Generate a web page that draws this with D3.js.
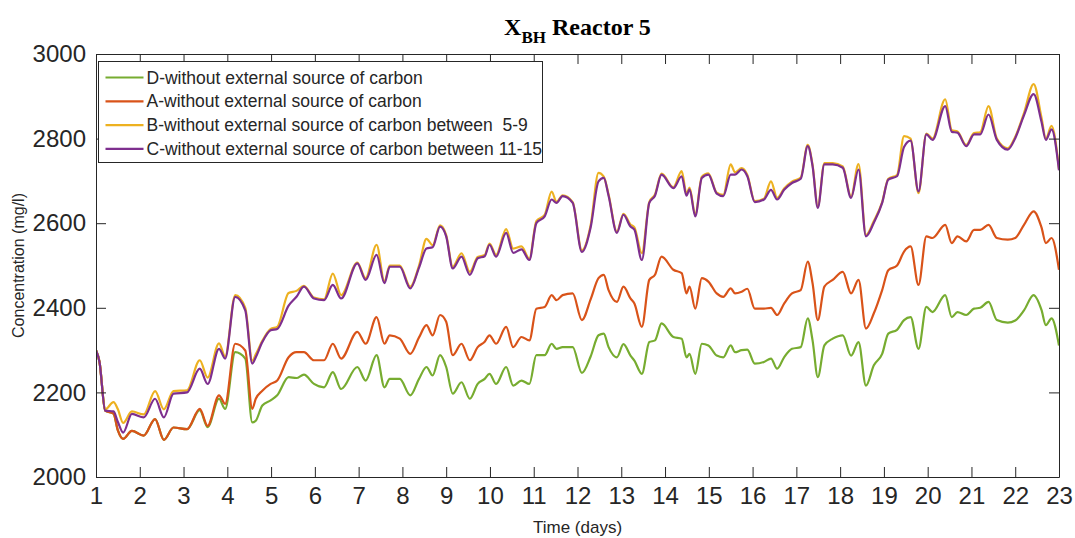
<!DOCTYPE html>
<html>
<head>
<meta charset="utf-8">
<title>X_BH Reactor 5</title>
<script src="https://cdn.jsdelivr.net/npm/d3@7"></script>
<style>
  html, body { margin: 0; padding: 0; background: #ffffff; }
  svg { display: block; }
  .tick text { font-family: "Liberation Sans", Arial, sans-serif; fill: #262626; }
</style>
</head>
<body>
<svg id="chart" width="1075" height="538"></svg>
<script>
// Sample times (days)
const days = [
  1.00, 1.08, 1.21, 1.40, 1.50, 1.62, 1.82, 2.09, 2.35, 2.55,
  2.77, 3.08, 3.37, 3.55, 3.81, 3.95, 4.18, 4.41, 4.57, 4.65,
  4.80, 4.99, 5.14, 5.40, 5.58, 5.75, 5.98, 6.21, 6.41, 6.60,
  6.97, 7.16, 7.41, 7.59, 7.71, 7.94, 8.18, 8.38, 8.55, 8.69,
  8.86, 9.00, 9.15, 9.35, 9.54, 9.72, 9.88, 9.99, 10.14, 10.37,
  10.53, 10.72, 10.90, 11.06, 11.25, 11.41, 11.52, 11.66, 11.89, 12.10,
  12.30, 12.48, 12.60, 12.71, 12.90, 13.05, 13.21, 13.30, 13.47, 13.64,
  13.77, 13.92, 14.19, 14.38, 14.49, 14.56, 14.69, 14.84, 14.99, 15.18,
  15.33, 15.50, 15.60, 15.75, 15.88, 16.05, 16.26, 16.42, 16.56, 16.72,
  16.90, 17.10, 17.26, 17.37, 17.49, 17.64, 17.83, 18.06, 18.25, 18.42,
  18.59, 18.77, 18.96, 19.10, 19.30, 19.46, 19.61, 19.79, 19.97, 20.11,
  20.40, 20.55, 20.68, 20.88, 21.06, 21.20, 21.39, 21.58, 21.83, 22.00,
  22.20, 22.42, 22.60, 22.70, 22.83, 23.00
];

// D - without external source of carbon
const seriesD = [
  2300, 2272, 2157, 2150, 2110, 2090, 2109, 2098, 2137, 2088,
  2117, 2113, 2158, 2118, 2185, 2161, 2295, 2280, 2129, 2133,
  2169, 2181, 2193, 2236, 2234, 2242, 2220, 2212, 2248, 2208,
  2260, 2228, 2288, 2212, 2232, 2232, 2193, 2232, 2260, 2240,
  2288, 2260, 2197, 2224, 2185, 2220, 2232, 2244, 2220, 2260,
  2216, 2228, 2220, 2288, 2288, 2315, 2303, 2307, 2307, 2246,
  2285, 2335, 2339, 2307, 2283, 2314, 2287, 2275, 2244, 2319,
  2323, 2363, 2331, 2327, 2283, 2291, 2244, 2315, 2311, 2287,
  2283, 2311, 2295, 2300, 2301, 2268, 2272, 2280, 2256, 2283,
  2303, 2307, 2375, 2323, 2236, 2311, 2327, 2335, 2287, 2319,
  2216, 2264, 2291, 2339, 2348, 2371, 2378, 2303, 2402, 2390,
  2430, 2378, 2390, 2383, 2398, 2400, 2414, 2371, 2365, 2370,
  2394, 2430, 2395, 2359, 2375, 2311
];

// A - without external source of carbon
const seriesA = [
  2300, 2272, 2157, 2150, 2110, 2090, 2109, 2098, 2137, 2088,
  2117, 2113, 2161, 2121, 2193, 2173, 2315, 2299, 2161, 2185,
  2204, 2220, 2228, 2283, 2295, 2295, 2276, 2276, 2315, 2280,
  2343, 2315, 2378, 2315, 2335, 2327, 2291, 2330, 2359, 2335,
  2383, 2367, 2288, 2315, 2276, 2307, 2320, 2335, 2315, 2355,
  2307, 2331, 2323, 2398, 2402, 2430, 2418, 2430, 2434, 2371,
  2420, 2470, 2478, 2442, 2414, 2450, 2422, 2410, 2355, 2466,
  2478, 2521, 2490, 2482, 2434, 2450, 2398, 2470, 2462, 2434,
  2426, 2446, 2434, 2438, 2445, 2398, 2398, 2400, 2383, 2410,
  2434, 2442, 2509, 2458, 2371, 2450, 2466, 2485, 2434, 2466,
  2351, 2387, 2442, 2489, 2500, 2533, 2545, 2454, 2569, 2565,
  2596, 2553, 2569, 2557, 2584, 2584, 2596, 2565, 2561, 2565,
  2596, 2628, 2590, 2553, 2565, 2490
];

// B - without external source of carbon between 5-9
const seriesB = [
  2300, 2272, 2160, 2177, 2160, 2128, 2155, 2148, 2203, 2160,
  2203, 2205, 2276, 2235, 2316, 2285, 2430, 2400, 2275, 2290,
  2322, 2350, 2355, 2435, 2440, 2452, 2424, 2420, 2481, 2430,
  2507, 2470, 2549, 2462, 2500, 2500, 2450, 2500, 2563, 2548,
  2595, 2572, 2497, 2529, 2485, 2520, 2525, 2552, 2525, 2586,
  2540, 2545, 2516, 2605, 2620, 2675, 2650, 2666, 2650, 2536,
  2595, 2719, 2710, 2668, 2580, 2622, 2597, 2590, 2529, 2650,
  2668, 2717, 2685, 2723, 2670, 2684, 2620, 2710, 2718, 2672,
  2667, 2739, 2720, 2730, 2714, 2652, 2658, 2699, 2660, 2682,
  2698, 2708, 2785, 2738, 2640, 2742, 2742, 2734, 2663, 2740,
  2572, 2605, 2650, 2705, 2714, 2806, 2800, 2671, 2812, 2800,
  2893, 2820, 2817, 2785, 2813, 2815, 2877, 2800, 2777, 2804,
  2860, 2929, 2850, 2800, 2830, 2728
];

// C - without external source of carbon between 11-15
const seriesC = [
  2300, 2272, 2157, 2155, 2130, 2105, 2149, 2141, 2185, 2141,
  2197, 2200, 2256, 2220, 2303, 2280, 2426, 2394, 2268, 2283,
  2319, 2347, 2350, 2405, 2426, 2450, 2422, 2418, 2454, 2422,
  2505, 2466, 2525, 2458, 2497, 2497, 2446, 2495, 2540, 2543,
  2592, 2569, 2493, 2521, 2478, 2517, 2522, 2549, 2521, 2577,
  2530, 2538, 2513, 2600, 2616, 2656, 2648, 2664, 2648, 2532,
  2590, 2699, 2707, 2665, 2577, 2620, 2592, 2585, 2513, 2648,
  2665, 2715, 2683, 2711, 2665, 2680, 2616, 2707, 2715, 2670,
  2664, 2715, 2715, 2727, 2711, 2650, 2656, 2679, 2656, 2679,
  2695, 2705, 2782, 2735, 2636, 2739, 2739, 2731, 2660, 2727,
  2569, 2601, 2648, 2703, 2711, 2780, 2795, 2675, 2810, 2797,
  2877, 2816, 2814, 2782, 2810, 2810, 2857, 2797, 2774, 2801,
  2855, 2905, 2840, 2797, 2822, 2725
];

const seriesLabels = [
  "D-without external source of carbon",
  "A-without external source of carbon",
  "B-without external source of carbon between\u00a0\u00a05-9",
  "C-without external source of carbon between 11-15"
];
const seriesColors = ["#77AC30", "#D95319", "#EDB120", "#7E2F8E"];
const seriesValues = [seriesD, seriesA, seriesB, seriesC];

const xTicks = d3.range(1, 24);            // 1 .. 23 days
const yTicks = [2000, 2200, 2400, 2600, 2800, 3000];

// Layout
const W = 1075, H = 538;
const margin = { top: 54, right: 16, bottom: 61, left: 96 };
const plotW = W - margin.left - margin.right;
const plotH = H - margin.top - margin.bottom;

const svg = d3.select("#chart");
const g = svg.append("g").attr("transform", `translate(${margin.left},${margin.top})`);

const x = d3.scaleLinear().domain([1, 23]).range([0, plotW]);
const y = d3.scaleLinear().domain([2000, 3000]).range([plotH, 0]);

const axisColor = "#262626";
const tickFont = 24;

// Lines
const line = d3.line()
  .x((d, i) => x(days[i]))
  .y(d => y(d))
  .curve(d3.curveMonotoneX);

svg.append("defs").append("clipPath").attr("id", "plotClip")
  .append("rect").attr("x", 0).attr("y", -2).attr("width", plotW).attr("height", plotH + 4);

const linesG = g.append("g").attr("clip-path", "url(#plotClip)");
seriesValues.forEach((vals, k) => {
  linesG.append("path")
    .datum(vals)
    .attr("d", line)
    .attr("fill", "none")
    .attr("stroke", seriesColors[k])
    .attr("stroke-width", 2.2)
    .attr("stroke-linejoin", "round");
});

// Axes: inward ticks on all four sides (boxed frame)
function styleAxis(sel) {
  sel.selectAll(".domain").attr("stroke", axisColor).attr("stroke-width", 1);
  sel.selectAll(".tick line").attr("stroke", axisColor).attr("stroke-width", 1);
  sel.selectAll(".tick text").attr("font-size", tickFont).attr("fill", axisColor);
}

g.append("g")
  .attr("transform", `translate(0,${plotH})`)
  .call(d3.axisBottom(x).tickValues(xTicks).tickFormat(d3.format("d"))
    .tickSizeInner(-10).tickSizeOuter(0).tickPadding(10))
  .call(styleAxis);

g.append("g")
  .call(d3.axisTop(x).tickValues(xTicks).tickFormat("")
    .tickSizeInner(-10).tickSizeOuter(0))
  .call(styleAxis);

g.append("g")
  .call(d3.axisLeft(y).tickValues(yTicks).tickFormat(d3.format("d"))
    .tickSizeInner(-10).tickSizeOuter(0).tickPadding(10))
  .call(styleAxis);

g.append("g")
  .attr("transform", `translate(${plotW},0)`)
  .call(d3.axisRight(y).tickValues(yTicks).tickFormat("")
    .tickSizeInner(-10).tickSizeOuter(0))
  .call(styleAxis);

g.selectAll(".tick text").attr("font-family", "'Liberation Sans', Arial, sans-serif");

// Axis labels
svg.append("text")
  .attr("x", margin.left + plotW / 2)
  .attr("y", 533)
  .attr("text-anchor", "middle")
  .attr("font-family", "'Liberation Sans', Arial, sans-serif")
  .attr("font-size", 17)
  .attr("fill", axisColor)
  .text("Time (days)");

svg.append("text")
  .attr("transform", `translate(24,${margin.top + plotH / 2}) rotate(-90)`)
  .attr("text-anchor", "middle")
  .attr("font-family", "'Liberation Sans', Arial, sans-serif")
  .attr("font-size", 16)
  .attr("fill", axisColor)
  .text("Concentration (mg/l)");

// Title with subscript
const title = svg.append("text")
  .attr("x", margin.left + plotW / 2)
  .attr("y", 35)
  .attr("text-anchor", "middle")
  .attr("font-family", "'Liberation Serif', 'Times New Roman', serif")
  .attr("font-weight", "bold")
  .attr("font-size", 24)
  .attr("fill", "#000");
title.append("tspan").text("X");
title.append("tspan").attr("font-size", 17).attr("dy", 8).text("BH");
title.append("tspan").attr("dy", -8).text("\u00a0Reactor 5");

// Legend
const legend = svg.append("g").attr("transform", "translate(98.5,61.5)");
legend.append("rect")
  .attr("width", 444).attr("height", 101)
  .attr("fill", "#ffffff")
  .attr("stroke", axisColor).attr("stroke-width", 1);

seriesLabels.forEach((label, k) => {
  const ry = 16 + k * 23.8;
  legend.append("line")
    .attr("x1", 7).attr("x2", 45)
    .attr("y1", ry).attr("y2", ry)
    .attr("stroke", seriesColors[k]).attr("stroke-width", 2.2);
  legend.append("text")
    .attr("x", 48).attr("y", ry)
    .attr("dy", "0.35em")
    .attr("font-family", "'Liberation Sans', Arial, sans-serif")
    .attr("font-size", 17.5)
    .attr("fill", axisColor)
    .text(label);
});
</script>
</body>
</html>
